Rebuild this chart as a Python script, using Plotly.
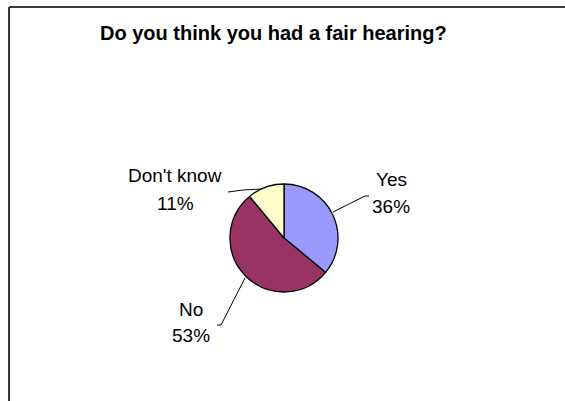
import plotly.graph_objects as go

# Survey responses
labels = ["Yes", "No", "Don't know"]
shares = [36, 53, 11]
colors = ["#9999FF", "#993366", "#FFFFCC"]
title_text = "Do you think you had a fair hearing?"

W, H = 565, 401

def px(x):
    return x / W

def py(y):
    return 1 - y / H

# pie geometry in pixels
cx, cy, r = 284, 238, 54

fig = go.Figure(
    go.Pie(
        labels=labels,
        values=shares,
        sort=False,
        direction="clockwise",
        rotation=0,
        marker=dict(colors=colors, line=dict(color="black", width=1.3)),
        textinfo="none",
        hoverinfo="label+percent",
        showlegend=False,
        domain=dict(x=[px(cx - r), px(cx + r)], y=[py(cy + r), py(cy - r)]),
    )
)

FAMILY = "Liberation Sans, Arial, sans-serif"
font = dict(family=FAMILY, size=19, color="black")

# label positions: (x centre, name line y, percent line y) in pixels
label_pos = {
    "Yes": (391, 179, 206),
    "No": (191, 309, 335),
    "Don't know": (175, 175, 204),
}
leaders = {
    "Yes": [(333, 212), (365, 196), (369, 196)],
    "No": [(245, 278), (221, 325), (217, 325)],
    "Don't know": [(261, 189), (243, 190), (228, 192)],
}

annotations = []
for lab, val in zip(labels, shares):
    x, y1, y2 = label_pos[lab]
    for txt, yy in ((lab, y1), (f"{val}%", y2)):
        annotations.append(dict(
            x=px(x), y=py(yy), xref="paper", yref="paper",
            text=txt, showarrow=False, font=font,
            xanchor="center", yanchor="middle",
        ))

annotations.append(dict(
    x=px(273), y=py(33), xref="paper", yref="paper", text=f"<b>{title_text}</b>",
    showarrow=False, font=dict(family=FAMILY, size=20, color="black"),
    xanchor="center", yanchor="middle",
))

shapes = []
for lab in labels:
    pts = leaders[lab]
    path = "M " + " L ".join(f"{px(x)},{py(y)}" for x, y in pts)
    shapes.append(dict(type="path", xref="paper", yref="paper", path=path,
                       line=dict(color="black", width=1)))

# chart frame: top and left edges
shapes.append(dict(type="line", xref="paper", yref="paper",
                   x0=px(9), y0=py(7), x1=1.01, y1=py(7),
                   line=dict(color="#3a3a3a", width=2)))
shapes.append(dict(type="line", xref="paper", yref="paper",
                   x0=px(9), y0=py(7), x1=px(9), y1=-0.01,
                   line=dict(color="#3a3a3a", width=2)))

fig.update_layout(
    width=W, height=H,
    margin=dict(l=0, r=0, t=0, b=0),
    paper_bgcolor="white", plot_bgcolor="white",
    annotations=annotations, shapes=shapes,
)

fig.write_html("out.html")
